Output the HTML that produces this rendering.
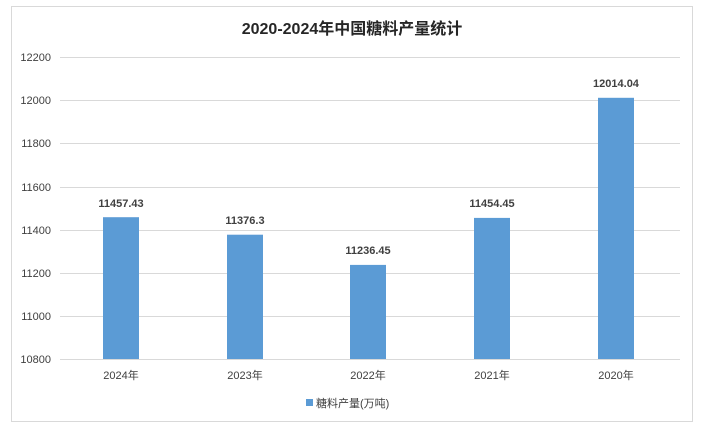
<!DOCTYPE html>
<html><head><meta charset="utf-8"><style>
html,body{margin:0;padding:0;background:#fff;}
svg{display:block;font-family:"Liberation Sans","Noto Sans CJK SC",sans-serif;}
</style></head><body>
<svg width="703" height="430" viewBox="0 0 703 430">
<rect x="11.5" y="6.5" width="681" height="415" fill="#fff" stroke="#d9d9d9"/>
<text x="352" y="34" text-anchor="middle" font-size="16" font-weight="bold" fill="#262626">2020-2024年中国糖料产量统计</text>
<g stroke="#d9d9d9" stroke-width="1">
<line x1="60" x2="680" y1="57.5" y2="57.5"/>
<line x1="60" x2="680" y1="100.5" y2="100.5"/>
<line x1="60" x2="680" y1="143.5" y2="143.5"/>
<line x1="60" x2="680" y1="187.5" y2="187.5"/>
<line x1="60" x2="680" y1="230.5" y2="230.5"/>
<line x1="60" x2="680" y1="273.5" y2="273.5"/>
<line x1="60" x2="680" y1="316.5" y2="316.5"/>
<line x1="60" x2="680" y1="359.5" y2="359.5"/>
</g>
<g font-size="11" fill="#404040" text-anchor="end">
<text x="51" y="61">12200</text>
<text x="51" y="104">12000</text>
<text x="51" y="147">11800</text>
<text x="51" y="191">11600</text>
<text x="51" y="234">11400</text>
<text x="51" y="277">11200</text>
<text x="51" y="320">11000</text>
<text x="51" y="363">10800</text>
</g>
<g fill="#5b9bd5">
<rect x="103" y="217.2" width="36" height="141.8"/>
<rect x="227" y="234.7" width="36" height="124.3"/>
<rect x="350" y="264.9" width="36" height="94.1"/>
<rect x="474" y="217.9" width="36" height="141.1"/>
<rect x="598" y="97.8" width="36" height="261.2"/>
</g>
<g font-size="11" font-weight="bold" fill="#404040" text-anchor="middle">
<text x="121" y="207">11457.43</text>
<text x="245" y="224">11376.3</text>
<text x="368" y="254">11236.45</text>
<text x="492" y="207">11454.45</text>
<text x="616" y="87">12014.04</text>
</g>
<g font-size="11" fill="#404040" text-anchor="middle">
<text x="121" y="379">2024年</text>
<text x="245" y="379">2023年</text>
<text x="368" y="379">2022年</text>
<text x="492" y="379">2021年</text>
<text x="616" y="379">2020年</text>
</g>
<rect x="306" y="399" width="7" height="7" fill="#5b9bd5"/>
<text x="316" y="407" font-size="11" fill="#404040">糖料产量(万吨)</text>
</svg>
</body></html>
